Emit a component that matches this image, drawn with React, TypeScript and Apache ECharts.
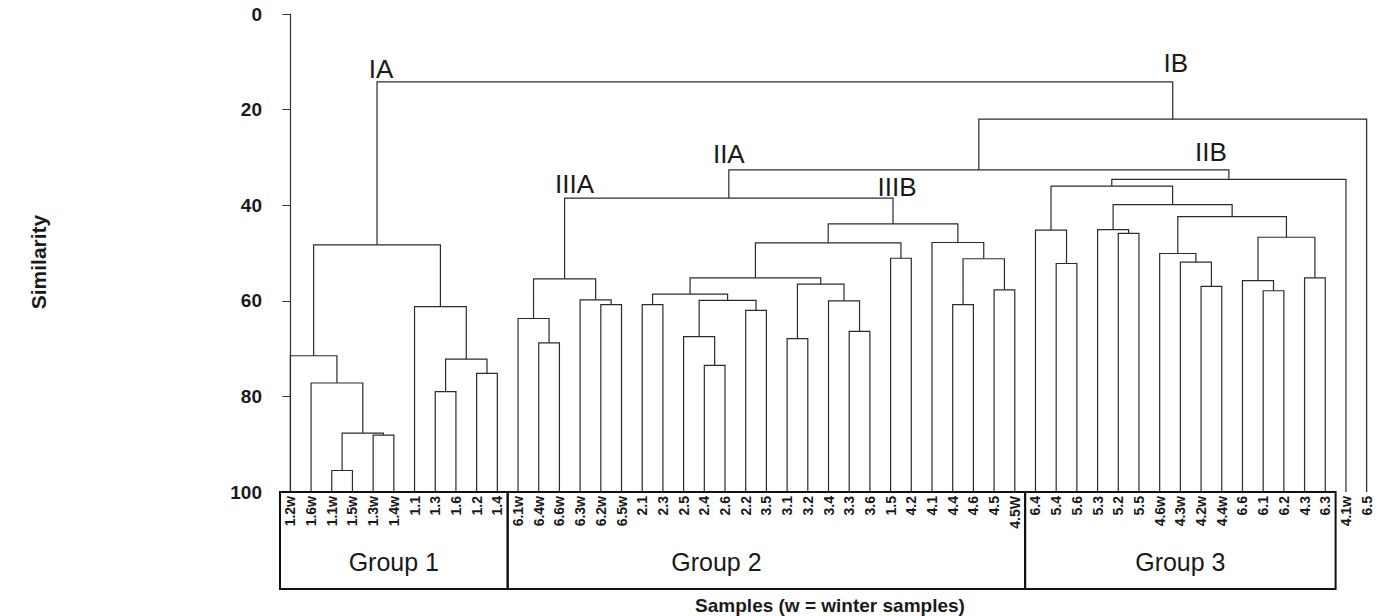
import React, { useEffect, useRef } from "react";
import * as echarts from "echarts";

// Leaf order (left to right)
const leaves: string[] = [
  "1.2w", "1.6w", "1.1w", "1.5w", "1.3w", "1.4w", "1.1", "1.3", "1.6", "1.2", "1.4",
  "6.1w", "6.4w", "6.6w", "6.3w", "6.2w", "6.5w", "2.1", "2.3", "2.5", "2.4", "2.6", "2.2", "3.5",
  "3.1", "3.2", "3.4", "3.3", "3.6", "1.5", "4.2", "4.1", "4.4", "4.6", "4.5", "4.5W",
  "6.4", "5.4", "5.6", "5.3", "5.2", "5.5", "4.6w", "4.3w", "4.2w", "4.4w", "6.6", "6.1", "6.2", "4.3", "6.3",
  "4.1w", "6.5",
];

// Merges: [child A, child B, similarity]; node i (1-based) is "n" + i
const merges: [string, string, number][] = [
  ["1.1w", "1.5w", 95.5],
  ["1.3w", "1.4w", 88.1],
  ["n1", "n2", 87.7],
  ["1.6w", "n3", 77.2],
  ["1.2w", "n4", 71.5],
  ["1.3", "1.6", 79.0],
  ["1.2", "1.4", 75.2],
  ["n6", "n7", 72.2],
  ["1.1", "n8", 61.2],
  ["n5", "n9", 48.3],
  ["6.4w", "6.6w", 68.8],
  ["6.1w", "n11", 63.7],
  ["6.2w", "6.5w", 60.8],
  ["6.3w", "n13", 59.8],
  ["n12", "n14", 55.4],
  ["2.1", "2.3", 60.8],
  ["2.4", "2.6", 73.5],
  ["2.5", "n17", 67.5],
  ["2.2", "3.5", 62.0],
  ["n18", "n19", 59.9],
  ["n16", "n20", 58.6],
  ["3.1", "3.2", 67.9],
  ["3.3", "3.6", 66.4],
  ["3.4", "n23", 60.0],
  ["n22", "n24", 56.5],
  ["n21", "n25", 55.2],
  ["1.5", "4.2", 51.1],
  ["n26", "n27", 47.9],
  ["4.4", "4.6", 60.8],
  ["4.5", "4.5W", 57.7],
  ["n29", "n30", 51.2],
  ["4.1", "n31", 47.8],
  ["n28", "n32", 43.9],
  ["n15", "n33", 38.5],
  ["5.4", "5.6", 52.2],
  ["6.4", "n35", 45.2],
  ["5.2", "5.5", 45.9],
  ["5.3", "n37", 45.1],
  ["4.2w", "4.4w", 57.0],
  ["4.3w", "n39", 51.9],
  ["4.6w", "n40", 50.1],
  ["6.1", "6.2", 57.9],
  ["6.6", "n42", 55.8],
  ["4.3", "6.3", 55.2],
  ["n43", "n44", 46.7],
  ["n41", "n45", 42.4],
  ["n38", "n46", 39.9],
  ["n36", "n47", 36.0],
  ["n48", "4.1w", 34.6],
  ["n34", "n49", 32.6],
  ["n50", "6.5", 22.0],
  ["n10", "n51", 14.2],
];

const yTicks: number[] = [0, 20, 40, 60, 80, 100];

// Branch labels: [text, node]
const branchLabels: [string, string][] = [
  ["IA", "n10"],
  ["IB", "n51"],
  ["IIA", "n34"],
  ["IIB", "n49"],
  ["IIIA", "n15"],
  ["IIIB", "n33"],
];

// Groups: [name, first leaf, last leaf]
const groups: [string, string, string][] = [
  ["Group 1", "1.2w", "1.4"],
  ["Group 2", "6.1w", "4.5W"],
  ["Group 3", "6.4", "6.3"],
];

const yTitle = "Similarity";
const xTitle = "Samples (w = winter samples)";

// ---- styles (pixels) ----
const labelOffsets: Record<string, [number, number]> = {
  IA: [4, -13],
  IB: [3, -19],
  IIA: [0, -16],
  IIB: [-18, -18],
  IIIA: [10, -14],
  IIIB: [4, -11],
};
const groupTextDx: Record<string, number> = { "Group 1": 0, "Group 2": -50, "Group 3": 0 };
const FONT = '"Liberation Sans", Arial, sans-serif';

export default function App() {
  const ref = useRef<HTMLDivElement>(null);

  useEffect(() => {
    document.body.style.margin = "0";
    if (!ref.current) return;
    const chart = echarts.init(ref.current, undefined, { renderer: "svg" });

    const pos: Record<string, { x: number; h: number }> = {};
    leaves.forEach((l, i) => (pos[l] = { x: i, h: 100 }));
    const parent: Record<string, number> = {};
    const segs = merges.map(([a, b, h], i) => {
      const A = pos[a];
      const B = pos[b];
      const id = "n" + (i + 1);
      pos[id] = { x: (A.x + B.x) / 2, h };
      parent[a] = h;
      parent[b] = h;
      return [A.x, A.h, B.x, B.h, h];
    });

    const labelData = branchLabels.map(([t, node]) => [pos[node].x, parent[node], t]);
    const groupData = groups.map(([name, f, l]) => [leaves.indexOf(f), leaves.indexOf(l), name]);

    const option: any = {
      animation: false,
      backgroundColor: "#ffffff",
      grid: { left: 280, width: 1097, top: 14, height: 478 },
      xAxis: [
        {
          type: "category",
          data: leaves,
          position: "bottom",
          boundaryGap: true,
          axisLine: { show: false },
          axisTick: { show: false },
          splitLine: { show: false },
          axisLabel: {
            interval: 0,
            rotate: 90,
            margin: 4,
            fontSize: 14,
            fontWeight: "bold",
            fontFamily: FONT,
            color: "#1a1a1a",
          },
        },
        {
          type: "value",
          min: -0.5,
          max: 52.5,
          show: false,
          position: "bottom",
          splitLine: { show: false },
        },
      ],
      yAxis: {
        type: "value",
        inverse: true,
        min: 0,
        max: 100,
        interval: 20,
        offset: 7,
        axisLine: { show: true, lineStyle: { color: "#333", width: 1.2 } },
        axisTick: { show: true, length: 8, lineStyle: { color: "#333" } },
        splitLine: { show: false },
        axisLabel: {
          margin: 11,
          fontSize: 19,
          fontWeight: "bold",
          fontFamily: FONT,
          color: "#1a1a1a",
          formatter: (v: number) => (yTicks.includes(v) ? String(v) : ""),
        },
      },
      graphic: [
        {
          type: "text",
          x: 38,
          y: 262,
          rotation: Math.PI / 2,
          style: {
            text: yTitle,
            font: `bold 21px ${FONT}`,
            fill: "#1a1a1a",
            align: "center",
            verticalAlign: "middle",
          },
        },
        {
          type: "text",
          x: 830,
          y: 605,
          style: {
            text: xTitle,
            font: `bold 19px ${FONT}`,
            fill: "#1a1a1a",
            align: "center",
            verticalAlign: "middle",
          },
        },
      ],
      series: [
        {
          type: "custom",
          name: "tree",
          xAxisIndex: 1,
          yAxisIndex: 0,
          data: segs,
          encode: { x: [0, 2], y: [1, 3, 4] },
          renderItem: (_p: any, api: any) => {
            const xl = api.value(0), hl = api.value(1), xr = api.value(2), hr = api.value(3), h = api.value(4);
            const pts = [api.coord([xl, hl]), api.coord([xl, h]), api.coord([xr, h]), api.coord([xr, hr])];
            return {
              type: "polyline",
              shape: { points: pts },
              style: { stroke: "#2b2b2b", lineWidth: 1.2, fill: "none" },
            };
          },
        },
        {
          type: "custom",
          name: "branchLabels",
          xAxisIndex: 1,
          yAxisIndex: 0,
          data: labelData,
          encode: { x: 0, y: 1 },
          renderItem: (params: any, api: any) => {
            const item = labelData[params.dataIndex];
            const p = api.coord([item[0], item[1]]);
            const off = labelOffsets[item[2] as string] || [0, -14];
            return {
              type: "text",
              x: p[0] + off[0],
              y: p[1] + off[1],
              style: {
                text: item[2],
                font: `26px ${FONT}`,
                fill: "#1a1a1a",
                align: "center",
                verticalAlign: "middle",
              },
            };
          },
        },
        {
          type: "custom",
          name: "groups",
          xAxisIndex: 1,
          yAxisIndex: 0,
          data: groupData,
          encode: { x: [0, 1] },
          renderItem: (params: any, api: any) => {
            const item = groupData[params.dataIndex];
            const a = api.coord([(item[0] as number) - 0.5, 100]);
            const b = api.coord([(item[1] as number) + 0.5, 100]);
            const hgt = 97;
            return {
              type: "group",
              children: [
                {
                  type: "rect",
                  shape: { x: a[0], y: a[1], width: b[0] - a[0], height: hgt },
                  style: { stroke: "#111", lineWidth: 2, fill: "none" },
                },
                {
                  type: "text",
                  x: (a[0] + b[0]) / 2 + (groupTextDx[item[2] as string] || 0),
                  y: a[1] + 70,
                  style: {
                    text: item[2],
                    font: `25px ${FONT}`,
                    fill: "#1a1a1a",
                    align: "center",
                    verticalAlign: "middle",
                  },
                },
              ],
            };
          },
        },
      ],
    };

    chart.setOption(option);
    return () => chart.dispose();
  }, []);

  return <div ref={ref} style={{ width: 1382, height: 616 }} />;
}
